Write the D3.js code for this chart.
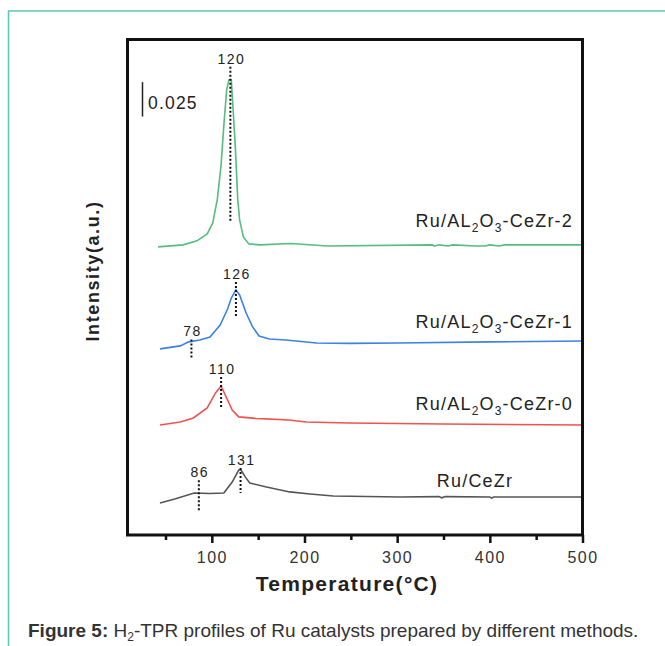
<!DOCTYPE html>
<html>
<head>
<meta charset="utf-8">
<script src="https://cdn.jsdelivr.net/npm/d3@7"></script>
<style>
  body { margin: 0; background: #fff; }
  svg { display: block; font-family: "Liberation Sans", Arial, sans-serif; }
</style>
</head>
<body>
<svg id="chart" width="665" height="646"></svg>
<script>
"use strict";

// H2-TPR profiles, [temperature (°C), intensity (a.u., offset as plotted)]
const ruCeZr = [
  [44, 0.0233], [60, 0.0262], [81, 0.0305], [98, 0.0302], [113, 0.0305],
  [122, 0.0385], [129, 0.0472], [131.5, 0.0472], [136, 0.0422], [141, 0.0378],
  [159, 0.0349], [184, 0.0313], [206, 0.0298], [231, 0.0283], [303, 0.0276],
  [345, 0.0279], [348, 0.0270], [352, 0.0279], [400, 0.0276], [402, 0.0268],
  [404, 0.0276], [500, 0.0276]
];
const ruCeZr0 = [
  [44, 0.0799], [66, 0.0821], [80, 0.0850], [95, 0.0923], [104, 0.1032],
  [110, 0.1083], [117, 0.0981], [122, 0.0908], [129, 0.0858], [147, 0.0847],
  [183, 0.0836], [202, 0.0821], [248, 0.0814], [350, 0.0807], [500, 0.0799]
];
const ruCeZr1 = [
  [44, 0.1352], [66, 0.1374], [75, 0.1403], [87, 0.1417], [98, 0.1439],
  [109, 0.1526], [117, 0.1642], [121, 0.1722], [126, 0.1780], [130, 0.1744],
  [137, 0.1613], [144, 0.1512], [151, 0.1446], [162, 0.1424], [180, 0.1417],
  [213, 0.1395], [248, 0.1392], [300, 0.1395], [400, 0.1403], [500, 0.1410]
];
const ruCeZr2 = [
  [42, 0.2093], [69, 0.2108], [84, 0.2137], [95, 0.2188], [101, 0.2267],
  [106, 0.2442], [110, 0.2689], [113, 0.2980], [116, 0.3234], [118.5, 0.3307],
  [121, 0.3307], [123, 0.3089], [125.5, 0.2798], [128, 0.2435], [130, 0.2289],
  [134, 0.2166], [140, 0.2115], [152, 0.2108], [185, 0.2118], [225, 0.2100],
  [338, 0.2108], [340, 0.2098], [345, 0.2108], [355, 0.2100], [360, 0.2108],
  [385, 0.2100], [395, 0.2100], [400, 0.2108], [410, 0.2100], [416, 0.2108],
  [500, 0.2108]
];

const seriesData = [ruCeZr, ruCeZr0, ruCeZr1, ruCeZr2];
const seriesNames = ["Ru/CeZr", "Ru/AL2O3-CeZr-0", "Ru/AL2O3-CeZr-1", "Ru/AL2O3-CeZr-2"];
const seriesColors = ["#555555", "#f05252", "#3b82e6", "#55bd7f"];

// peak markers: temperature and the series they sit on
const peakTemps = [86, 131, 110, 78, 126, 120];
const peakSeries = [0, 0, 1, 2, 2, 3];

const xMajorTicks = [100, 200, 300, 400, 500];
const xMinorTicks = [50, 150, 250, 350, 450];
const scaleBarValue = 0.025;

const FONT = "'Liberation Sans', Arial, sans-serif";
const svg = d3.select("#chart");
const W = 665, H = 646;
const frame = {left: 127.5, right: 582.5, top: 39.5, bottom: 535};

// teal page border (top and left only)
svg.append("path")
  .attr("d", `M${W},11 L8.5,11 L8.5,${H}`)
  .attr("fill", "none")
  .attr("stroke", "#58c8b8")
  .attr("stroke-width", 1.5);

const x = d3.scaleLinear().domain([9, 500]).range([frame.left, frame.right]);
const y = d3.scaleLinear().domain([0, 0.36]).range([frame.bottom, frame.top]);

// bottom axis, major + minor
let axMajor = svg.append("g")
  .attr("transform", `translate(0,${frame.bottom})`)
  .call(d3.axisBottom(x).tickValues(xMajorTicks).tickSize(8).tickPadding(9));
axMajor.attr("font-family", FONT);
axMajor.select(".domain").remove();
axMajor.selectAll("line").attr("stroke", "#111").attr("stroke-width", 2.5);
axMajor.selectAll("text")
  .attr("font-size", 16).attr("fill", "#333")
  .style("letter-spacing", "1.5px");

let axMinor = svg.append("g")
  .attr("transform", `translate(0,${frame.bottom})`)
  .call(d3.axisBottom(x).tickValues(xMinorTicks).tickSize(5).tickFormat(""));
axMinor.select(".domain").remove();
axMinor.selectAll("line").attr("stroke", "#111").attr("stroke-width", 2.5);

// curves
const line = d3.line().x(d => x(d[0])).y(d => y(d[1])).curve(d3.curveLinear);
seriesData.forEach((s, i) => {
  svg.append("path")
    .attr("d", line(s))
    .attr("fill", "none")
    .attr("stroke", seriesColors[i])
    .attr("stroke-width", 1.6);
});

// value of a series at temperature t
function valueAt(s, t) {
  let i = d3.bisector(d => d[0]).left(s, t);
  if (i <= 0) return s[0][1];
  if (i >= s.length) return s[s.length - 1][1];
  let a = s[i - 1], b = s[i];
  return a[1] + (b[1] - a[1]) * (t - a[0]) / (b[0] - a[0]);
}

// dashed peak markers, extents in px above / below the curve
const markUp = [13, 2, 9, 2, 8, 13];
const markDown = [17, 23, 21, 17, 27, 143];
peakTemps.forEach((t, i) => {
  let px = x(t), py = y(valueAt(seriesData[peakSeries[i]], t));
  svg.append("line")
    .attr("x1", px).attr("x2", px)
    .attr("y1", py - markUp[i]).attr("y2", py + markDown[i])
    .attr("stroke", "#111").attr("stroke-width", 2)
    .attr("stroke-dasharray", "2,2");
  svg.append("text")
    .attr("x", px + 1).attr("y", py - markUp[i] - 3)
    .attr("text-anchor", "middle")
    .attr("font-size", 14).attr("fill", "#222")
    .style("letter-spacing", "1.5px")
    .text(t);
});

// series labels with subscripts
const labelLift = [10, 15, 13, 18];
seriesNames.forEach((name, i) => {
  let s = seriesData[i];
  let ly = y(s[s.length - 1][1]) - labelLift[i];
  let t = svg.append("text")
    .attr("x", i === 0 ? 475 : 573).attr("y", ly)
    .attr("text-anchor", i === 0 ? "middle" : "end")
    .attr("font-size", 18).attr("fill", "#222")
    .style("letter-spacing", "1.2px");
  let parts = name.split(/(\d)(?=O|-)/); // "Ru/AL", "2", "O", "3", "-CeZr-0"
  if (parts.length === 1) { t.text(name); return; }
  parts.forEach((p, k) => {
    let isSub = k % 2 === 1;
    t.append("tspan")
      .attr("font-size", isSub ? 12 : 18)
      .attr("dy", isSub ? 5 : (k > 0 ? -5 : 0))
      .text(p);
  });
});

// scale bar
let sbTop = y(0.329);
svg.append("line")
  .attr("x1", 142.5).attr("x2", 142.5)
  .attr("y1", sbTop).attr("y2", sbTop + (y(0) - y(scaleBarValue)))
  .attr("stroke", "#222").attr("stroke-width", 1.5);
svg.append("text")
  .attr("x", 148).attr("y", sbTop + 27)
  .attr("font-size", 17.5).attr("fill", "#222")
  .style("letter-spacing", "1.2px")
  .text(scaleBarValue);

// frame
svg.append("rect")
  .attr("x", frame.left).attr("y", frame.top)
  .attr("width", frame.right - frame.left).attr("height", frame.bottom - frame.top)
  .attr("fill", "none").attr("stroke", "#111").attr("stroke-width", 3);

// axis titles
svg.append("text")
  .attr("x", 347).attr("y", 591)
  .attr("text-anchor", "middle")
  .attr("font-size", 21).attr("font-weight", "bold").attr("fill", "#222")
  .style("letter-spacing", "1.3px")
  .text("Temperature(°C)");

svg.append("text")
  .attr("transform", "translate(99,271) rotate(-90)")
  .attr("text-anchor", "middle")
  .attr("font-size", 18).attr("font-weight", "bold").attr("fill", "#222")
  .style("letter-spacing", "1.6px")
  .text("Intensity(a.u.)");

// caption
let cap = svg.append("text")
  .attr("x", 28).attr("y", 637)
  .attr("font-size", 19).attr("fill", "#333");
cap.append("tspan").attr("font-weight", "bold").text("Figure 5:");
cap.append("tspan").text(" H");
cap.append("tspan").attr("font-size", 12).attr("dy", 4).text("2");
cap.append("tspan").attr("dy", -4).text("-TPR profiles of Ru catalysts prepared by different methods.");
</script>
</body>
</html>
